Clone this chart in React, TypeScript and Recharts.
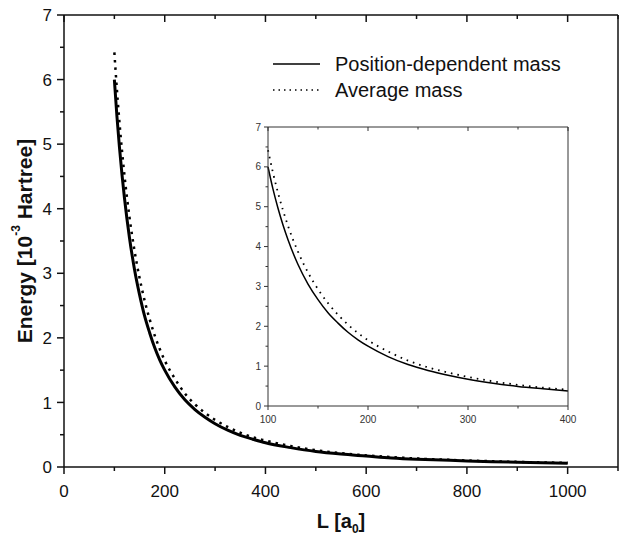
import React from 'react';
import { LineChart, Line, XAxis, YAxis, Legend, CartesianGrid } from 'recharts';

const FONT = '"Liberation Sans", Arial, Helvetica, sans-serif';

// Well width L [a0]
const lengthsL = [100, 105, 110, 115, 120, 130, 140, 150, 160, 170, 180, 190, 200, 220, 240, 260, 280, 300, 325, 350, 375, 400, 450, 500, 550, 600, 650, 700, 750, 800, 850, 900, 950, 1000];
// Position-dependent mass energy [1e-3 Hartree]
const pdmEnergy = [6.0, 5.44, 4.96, 4.54, 4.17, 3.55, 3.06, 2.67, 2.34, 2.08, 1.85, 1.66, 1.5, 1.24, 1.04, 0.89, 0.77, 0.67, 0.57, 0.49, 0.43, 0.375, 0.3, 0.24, 0.2, 0.17, 0.14, 0.12, 0.107, 0.094, 0.083, 0.074, 0.066, 0.06];
// Average mass energy [1e-3 Hartree]
const avgEnergy = [6.42, 5.85, 5.35, 4.91, 4.52, 3.87, 3.35, 2.93, 2.58, 2.29, 2.04, 1.83, 1.65, 1.37, 1.14, 0.97, 0.84, 0.73, 0.62, 0.53, 0.46, 0.41, 0.325, 0.26, 0.215, 0.18, 0.153, 0.132, 0.115, 0.101, 0.089, 0.079, 0.071, 0.064];

const seriesNames = ['Position-dependent mass', 'Average mass'];

const mainXTicks = [0, 100, 200, 300, 400, 500, 600, 700, 800, 900, 1000, 1100];
const mainXLabels = [0, 200, 400, 600, 800, 1000];
const mainYTicks = [0, 0.5, 1, 1.5, 2, 2.5, 3, 3.5, 4, 4.5, 5, 5.5, 6, 6.5, 7];
const mainYLabels = [0, 1, 2, 3, 4, 5, 6, 7];
const insetXTicks = [100, 150, 200, 250, 300, 350, 400];
const insetXLabels = [100, 200, 300, 400];
const insetYTicks = [0, 0.5, 1, 1.5, 2, 2.5, 3, 3.5, 4, 4.5, 5, 5.5, 6, 6.5, 7];
const insetYLabels = [0, 1, 2, 3, 4, 5, 6, 7];

const data = lengthsL.map((L, i) => ({ L, pdm: pdmEnergy[i], avg: avgEnergy[i] }));
const insetData = data.filter((d) => d.L <= 400);

type TickOpts = {
  side: 'bottom' | 'left' | 'top' | 'right';
  labels: number[];
  majorLen: number;
  minorLen: number;
  fontSize: number;
  labelOffset: number;
  color: string;
  strokeW: number;
};

const makeTick = (o: TickOpts) => (props: any) => {
  const { x, y, payload } = props;
  const v = Number(payload.value);
  const isMajor = o.labels.some((l) => Math.abs(l - v) < 1e-9);
  const len = isMajor ? o.majorLen : o.minorLen;
  let x2 = x;
  let y2 = y;
  if (o.side === 'bottom') y2 = y + len;
  if (o.side === 'top') y2 = y + len;
  if (o.side === 'left') x2 = x - len;
  if (o.side === 'right') x2 = x - len;
  let label = null;
  if (isMajor && o.fontSize > 0) {
    if (o.side === 'bottom') {
      label = (
        <text x={x} y={y + o.labelOffset} textAnchor="middle" fontSize={o.fontSize} fontFamily={FONT} fill={o.color}>
          {String(v)}
        </text>
      );
    } else if (o.side === 'left') {
      label = (
        <text x={x - o.labelOffset} y={y + o.fontSize * 0.36} textAnchor="end" fontSize={o.fontSize} fontFamily={FONT} fill={o.color}>
          {String(v)}
        </text>
      );
    }
  }
  return (
    <g>
      <line x1={x} y1={y} x2={x2} y2={y2} stroke={o.color} strokeWidth={o.strokeW} />
      {label}
    </g>
  );
};

const mainBottomTick = makeTick({ side: 'bottom', labels: mainXLabels, majorLen: 7, minorLen: 4, fontSize: 17, labelOffset: 30, color: '#111', strokeW: 1.5 });
const mainTopTick = makeTick({ side: 'top', labels: mainXLabels, majorLen: 7, minorLen: 4, fontSize: 0, labelOffset: 0, color: '#111', strokeW: 1.5 });
const mainLeftTick = makeTick({ side: 'left', labels: mainYLabels, majorLen: 7, minorLen: 4, fontSize: 17, labelOffset: 12, color: '#111', strokeW: 1.5 });
const mainRightTick = makeTick({ side: 'right', labels: mainYLabels, majorLen: 7, minorLen: 4, fontSize: 0, labelOffset: 0, color: '#111', strokeW: 1.5 });

const insetBottomTick = makeTick({ side: 'bottom', labels: insetXLabels, majorLen: 4, minorLen: 2.5, fontSize: 10, labelOffset: 17, color: '#333', strokeW: 1 });
const insetTopTick = makeTick({ side: 'top', labels: insetXLabels, majorLen: 4, minorLen: 2.5, fontSize: 0, labelOffset: 0, color: '#333', strokeW: 1 });
const insetLeftTick = makeTick({ side: 'left', labels: insetYLabels, majorLen: 4, minorLen: 2.5, fontSize: 10, labelOffset: 7, color: '#333', strokeW: 1 });
const insetRightTick = makeTick({ side: 'right', labels: insetYLabels, majorLen: 4, minorLen: 2.5, fontSize: 0, labelOffset: 0, color: '#333', strokeW: 1 });

const XTitle = (props: any) => {
  const vb = props.viewBox || { x: 64, y: 467, width: 554, height: 70 };
  const cx = vb.x + vb.width / 2;
  return (
    <text x={cx} y={vb.y + 61} textAnchor="middle" fontFamily={FONT} fontWeight="bold" fontSize={20} fill="#111">
      <tspan>L [a</tspan>
      <tspan fontSize={12} dy={5}>0</tspan>
      <tspan dy={-5}>]</tspan>
    </text>
  );
};

const YTitle = (props: any) => {
  const vb = props.viewBox || { x: 0, y: 15, width: 64, height: 452 };
  const cy = vb.y + vb.height / 2;
  return (
    <text
      transform={`translate(24, ${cy}) rotate(-90)`}
      x={0}
      y={0}
      textAnchor="middle"
      dominantBaseline="central"
      fontFamily={FONT}
      fontWeight="bold"
      fontSize={21}
      fill="#111"
    >
      <tspan>Energy [10</tspan>
      <tspan fontSize={12} dy={-8}>-3</tspan>
      <tspan dy={8}> Hartree]</tspan>
    </text>
  );
};

const LegendBox = (props: any) => {
  const raw = (props.payload || []) as any[];
  const items = [...raw].sort((a, b) => seriesNames.indexOf(a.value) - seriesNames.indexOf(b.value));
  return (
    <div style={{ fontFamily: FONT, fontSize: 20, color: '#111' }}>
      {items.map((it, i) => (
        <div key={i} style={{ display: 'flex', alignItems: 'center', height: 26 }}>
          <svg width={50} height={10} style={{ display: 'block' }}>
            <line
              x1={3}
              x2={50}
              y1={5}
              y2={5}
              stroke="#000"
              strokeWidth={1.5}
              strokeDasharray={it.value === seriesNames[1] ? '1.5 4' : undefined}
            />
          </svg>
          <span style={{ marginLeft: 15, whiteSpace: 'nowrap', lineHeight: '26px' }}>{it.value}</span>
        </div>
      ))}
    </div>
  );
};

export default function App() {
  return (
    <div style={{ position: 'absolute', left: 0, top: 0, width: 619, height: 537, background: '#fff' }}>
      <div style={{ position: 'absolute', left: 0, top: 0 }}>
        <LineChart width={619} height={537} data={data} margin={{ top: 14, right: 0, bottom: 0, left: 0 }}>
          <XAxis
            dataKey="L"
            type="number"
            domain={[0, 1100]}
            ticks={mainXTicks}
            interval={0}
            height={70}
            tickSize={0}
            tickMargin={0}
            tick={mainBottomTick}
            axisLine={{ stroke: '#111', strokeWidth: 1.5 }}
            label={<XTitle />}
          />
          <XAxis
            xAxisId="top"
            orientation="top"
            dataKey="L"
            type="number"
            domain={[0, 1100]}
            ticks={mainXTicks}
            interval={0}
            height={1}
            tickSize={0}
            tickMargin={0}
            tick={mainTopTick}
            axisLine={{ stroke: '#111', strokeWidth: 1.5 }}
          />
          <YAxis
            type="number"
            domain={[0, 7]}
            ticks={mainYTicks}
            interval={0}
            width={64}
            tickSize={0}
            tickMargin={0}
            tick={mainLeftTick}
            axisLine={{ stroke: '#111', strokeWidth: 1.5 }}
            label={<YTitle />}
          />
          <YAxis
            yAxisId="right"
            orientation="right"
            type="number"
            domain={[0, 7]}
            ticks={mainYTicks}
            interval={0}
            width={1}
            tickSize={0}
            tickMargin={0}
            tick={mainRightTick}
            axisLine={{ stroke: '#111', strokeWidth: 1.5 }}
          />
          <Legend
            layout="vertical"
            align="center"
            verticalAlign="middle"
            itemSorter={null as any}
            content={<LegendBox />}
            wrapperStyle={{ position: 'absolute', left: 270, top: 51, width: 330 }}
          />
          <Line
            name={seriesNames[0]}
            dataKey="pdm"
            type="monotone"
            stroke="#000"
            strokeWidth={3}
            dot={false}
            activeDot={false}
            isAnimationActive={false}
          />
          <Line
            name={seriesNames[1]}
            dataKey="avg"
            type="monotone"
            stroke="#000"
            strokeWidth={2.5}
            strokeDasharray="2.5 5"
            dot={false}
            activeDot={false}
            isAnimationActive={false}
          />
        </LineChart>
      </div>
      <div style={{ position: 'absolute', left: 228, top: 121 }}>
        <LineChart width={353} height={310} data={insetData} margin={{ top: 5, right: 12, bottom: 0, left: 0 }}>
          <CartesianGrid fill="#fff" horizontal={false} vertical={false} />
          <XAxis
            dataKey="L"
            type="number"
            domain={[100, 400]}
            ticks={insetXTicks}
            interval={0}
            height={25}
            tickSize={0}
            tickMargin={0}
            tick={insetBottomTick}
            axisLine={{ stroke: '#333', strokeWidth: 1 }}
          />
          <XAxis
            xAxisId="top"
            orientation="top"
            dataKey="L"
            type="number"
            domain={[100, 400]}
            ticks={insetXTicks}
            interval={0}
            height={1}
            tickSize={0}
            tickMargin={0}
            tick={insetTopTick}
            axisLine={{ stroke: '#333', strokeWidth: 1 }}
          />
          <YAxis
            type="number"
            domain={[0, 7]}
            ticks={insetYTicks}
            interval={0}
            width={40}
            tickSize={0}
            tickMargin={0}
            tick={insetLeftTick}
            axisLine={{ stroke: '#333', strokeWidth: 1 }}
          />
          <YAxis
            yAxisId="right"
            orientation="right"
            type="number"
            domain={[0, 7]}
            ticks={insetYTicks}
            interval={0}
            width={1}
            tickSize={0}
            tickMargin={0}
            tick={insetRightTick}
            axisLine={{ stroke: '#333', strokeWidth: 1 }}
          />
          <Line
            name={seriesNames[0]}
            dataKey="pdm"
            type="monotone"
            stroke="#000"
            strokeWidth={1.5}
            dot={false}
            activeDot={false}
            isAnimationActive={false}
          />
          <Line
            name={seriesNames[1]}
            dataKey="avg"
            type="monotone"
            stroke="#000"
            strokeWidth={1.8}
            strokeDasharray="1.6 5"
            dot={false}
            activeDot={false}
            isAnimationActive={false}
          />
        </LineChart>
      </div>
    </div>
  );
}
